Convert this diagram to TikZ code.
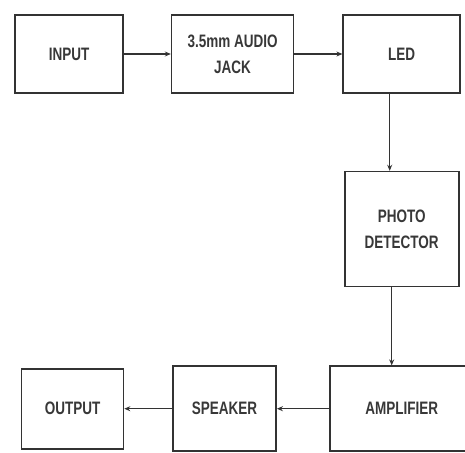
\documentclass[tikz,border=0pt]{standalone}
\usepackage{fontspec}
\setmainfont{Liberation Sans}[FakeStretch=0.75]
\usetikzlibrary{positioning, arrows.meta}

\begin{document}
\begin{tikzpicture}[
  font=\fontsize{18}{26}\selectfont\bfseries,
  text=black!78,
  node distance=47pt and 48pt,
  box/.style={draw=black!80, line width=1.6pt, align=center, inner sep=2pt},
  flow/.style={-{Stealth[length=6pt, width=5pt]}, line width=1.3pt, draw=black!80}
]
\useasboundingbox[fill=white] (0,0) rectangle (465pt,-452pt);
\node[box, minimum width=108pt, minimum height=78pt] (input) at (69pt,-54pt) {INPUT};
\node[box, minimum width=122pt, minimum height=78pt, right=47pt of input] (jack) {3.5mm AUDIO\\ JACK};
\node[box, minimum width=117pt, minimum height=78pt, right=48pt of jack] (led) {LED};
\node[box, minimum width=114pt, minimum height=115pt, below=77pt of led] (pd) {PHOTO\\ DETECTOR};
\node[box, minimum width=144pt, minimum height=85pt, below=78pt of pd] (amp) {AMPLIFIER};
\node[box, minimum width=103pt, minimum height=85pt, left=52pt of amp] (spk) {SPEAKER};
\node[box, minimum width=102pt, minimum height=80pt, left=48pt of spk] (out) {OUTPUT};
\draw[flow] (input) -- (jack);
\draw[flow] (jack) -- (led);
\draw[flow] ([xshift=-12pt]led.south) -- ([xshift=-12pt]led.south |- pd.north);
\draw[flow] ([xshift=-10pt]pd.south) -- ([xshift=-10pt]pd.south |- amp.north);
\draw[flow] (amp) -- (spk);
\draw[flow] (spk.west |- out) -- (out);
\end{tikzpicture}
\end{document}
